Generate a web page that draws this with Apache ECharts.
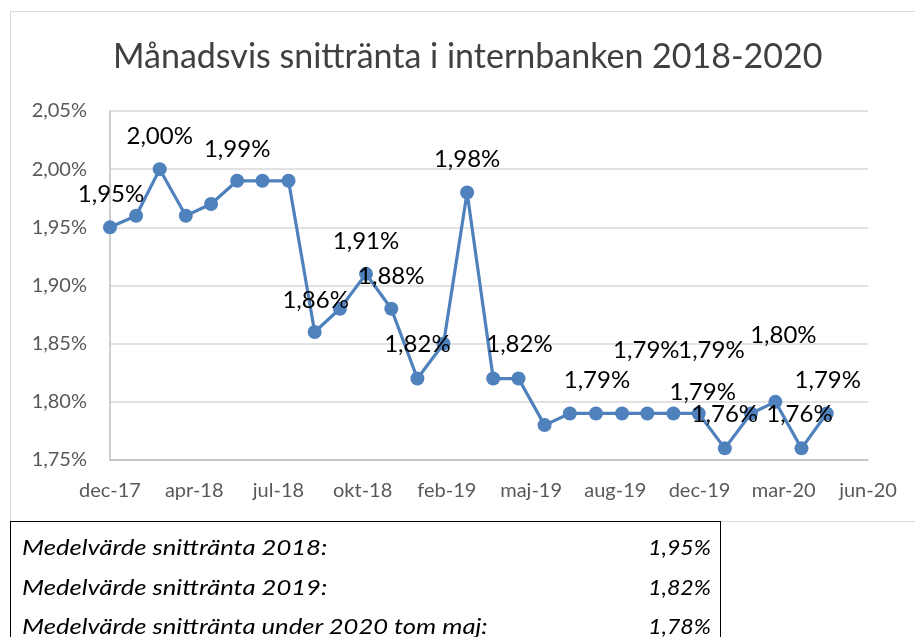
<!DOCTYPE html>
<html lang="sv">
<head>
<meta charset="UTF-8">
<title>Månadsvis snittränta</title>
<script src="https://cdn.jsdelivr.net/npm/echarts@6/dist/echarts.min.js"></script>
<style>
  html, body { margin: 0; padding: 0; background: #fff; }
  body { width: 915px; height: 637px; position: relative; overflow: hidden; font-family: Lato, sans-serif; }
  .frame { position: absolute; left: 10px; top: 11px; width: 920px; height: 509px; border: 1px solid #d9d9d9; }
  #chart { position: absolute; left: 0; top: 0; width: 915px; height: 637px; }
  .avg { position: absolute; left: 10px; top: 521px; width: 711px; height: 140px; border: 1.5px solid #000; padding-top: 5px; box-sizing: border-box; }
  .avg table { border-collapse: collapse; width: 100%; font-style: italic; font-size: 21px; color: #000; }
  .avg td { height: 39.5px; padding: 0 9px 0 11px; }
  .avg td span { display: inline-block; }
  .avg td.n span { transform: scaleX(1.22); transform-origin: left center; }
  .avg td.v { text-align: right; }
  .avg td.v span { transform: scaleX(1.1); transform-origin: right center; }
</style>
</head>
<body>
<div class="frame"></div>
<div id="chart"></div>
<div class="avg"><table id="avgTable"></table></div>
<script>
  // months (first day of each month) and the average rate in percent
  var months = ['2018-01', '2018-02', '2018-03', '2018-04', '2018-05', '2018-06', '2018-07', '2018-08', '2018-09', '2018-10', '2018-11', '2018-12',
    '2019-01', '2019-02', '2019-03', '2019-04', '2019-05', '2019-06', '2019-07', '2019-08', '2019-09', '2019-10', '2019-11', '2019-12',
    '2020-01', '2020-02', '2020-03', '2020-04', '2020-05'];
  var rates = [1.95, 1.96, 2.00, 1.96, 1.97, 1.99, 1.99, 1.99, 1.86, 1.88, 1.91, 1.88,
    1.82, 1.85, 1.98, 1.82, 1.82, 1.78, 1.79, 1.79, 1.79, 1.79, 1.79, 1.79,
    1.76, 1.79, 1.80, 1.76, 1.79];
  var tickLabels = ['dec-17', 'apr-18', 'jul-18', 'okt-18', 'feb-19', 'maj-19', 'aug-19', 'dec-19', 'mar-20', 'jun-20'];
  var avgNames = ['Medelvärde snittränta 2018:', 'Medelvärde snittränta 2019:', 'Medelvärde snittränta under 2020 tom maj:'];
  var avgValues = [1.95, 1.82, 1.78];

  // which points carry a label, and where it sits (centre offset from the point)
  var labelOffsets = {
    0: [1, -33], 2: [0, -33], 5: [0, -32], 8: [1, -32], 10: [0, -33], 11: [0, -33],
    12: [0, -34], 14: [0, -33], 16: [1, -34], 19: [1, -33], 21: [-1, -63], 22: [38, -63],
    23: [4, -21], 24: [0, -34], 26: [8, -67], 27: [-2, -34], 28: [1, -33]
  };

  function pct(v) {
    return v.toFixed(2).replace('.', ',') + '%';
  }

  var day0 = Date.UTC(2018, 0, 1);
  var points = months.map(function (m, i) {
    var p = m.split('-');
    var x = (Date.UTC(+p[0], +p[1] - 1, 1) - day0) / 86400000;
    var item = { value: [x, rates[i]] };
    if (labelOffsets[i]) {
      item.label = { show: true, offset: labelOffsets[i] };
    }
    return item;
  });

  var rows = '';
  avgNames.forEach(function (n, i) {
    rows += '<tr><td class="n"><span>' + n + '</span></td><td class="v"><span>' + pct(avgValues[i]) + '</span></td></tr>';
  });
  document.getElementById('avgTable').innerHTML = rows;

  var myChart = echarts.init(document.getElementById('chart'));
  var option = {
    animation: false,
    title: {
      text: 'Månadsvis snittränta i internbanken 2018-2020',
      left: 108,
      top: 35,
      textStyle: { fontFamily: 'Lato', fontSize: 34, fontWeight: 'normal', color: '#404040' }
    },
    grid: { left: 110, right: 47, top: 111, bottom: 177 },
    xAxis: {
      type: 'value',
      min: 0,
      max: 900,
      interval: 100,
      axisLine: { lineStyle: { color: '#bfbfbf', width: 1.5 } },
      axisTick: { show: false },
      splitLine: { show: false },
      axisLabel: {
        margin: 21,
        fontFamily: 'Lato',
        fontSize: 20,
        color: '#595959',
        formatter: function (v) { return tickLabels[Math.round(v / 100)]; }
      }
    },
    yAxis: {
      type: 'value',
      min: 1.75,
      max: 2.05,
      interval: 0.05,
      axisLine: { show: true, lineStyle: { color: '#bfbfbf', width: 1.5 } },
      axisTick: { show: false },
      splitLine: { lineStyle: { color: '#d9d9d9', width: 1.5 } },
      axisLabel: {
        margin: 23,
        fontFamily: 'Lato',
        fontSize: 20,
        color: '#595959',
        formatter: function (v) { return pct(v); }
      }
    },
    series: [{
      type: 'line',
      data: points,
      symbol: 'circle',
      symbolSize: 14,
      itemStyle: { color: '#4f81bd' },
      lineStyle: { color: '#4f81bd', width: 3.2 },
      label: {
        show: false,
        position: 'inside',
        align: 'center',
        verticalAlign: 'middle',
        fontFamily: 'Lato',
        fontSize: 24,
        color: '#000',
        formatter: function (p) { return pct(p.value[1]); }
      }
    }]
  };
  myChart.setOption(option);
</script>
</body>
</html>
